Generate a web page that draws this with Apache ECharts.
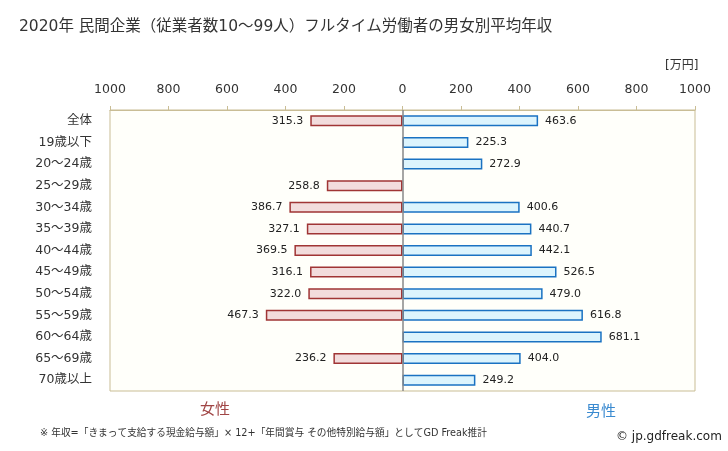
<!DOCTYPE html>
<html><head><meta charset="utf-8">
<script src="https://cdn.jsdelivr.net/npm/echarts@6/dist/echarts.min.js"></script>
<style>html,body{margin:0;padding:0;background:#fff}#c{width:728px;height:451px}</style>
</head><body><div id="c"></div>
<script>
const categories = ['全体','19歳以下','20〜24歳','25〜29歳','30〜34歳','35〜39歳','40〜44歳','45〜49歳','50〜54歳','55〜59歳','60〜64歳','65〜69歳','70歳以上'];
const female = [315.3, null, null, 258.8, 386.7, 327.1, 369.5, 316.1, 322.0, 467.3, null, 236.2, null];
const male = [463.6, 225.3, 272.9, null, 400.6, 440.7, 442.1, 526.5, 479.0, 616.8, 681.1, 404.0, 249.2];

const FONT = '"DejaVu Sans","Noto Sans CJK JP",sans-serif';
const chart = echarts.init(document.getElementById('c'), null, {renderer:'canvas'});
chart.setOption({
  animation:false,
  textStyle:{fontFamily:FONT},
  title:[
    {text:'2020年 民間企業（従業者数10〜99人）フルタイム労働者の男女別平均年収',left:14,top:14,textStyle:{fontSize:15.5,fontWeight:'normal',color:'#333',fontFamily:FONT}},
    {text:'[万円]',left:660,top:55,textStyle:{fontSize:12,fontWeight:'normal',color:'#333',fontFamily:FONT}},
    {text:'女性',left:195,top:398,textStyle:{fontSize:15,fontWeight:'normal',color:'#a04545',fontFamily:FONT}},
    {text:'男性',left:581,top:400,textStyle:{fontSize:15,fontWeight:'normal',color:'#3a8ad0',fontFamily:FONT}},
    {text:'※ 年収=「きまって支給する現金給与額」× 12+「年間賞与 その他特別給与額」としてGD Freak推計',left:35,top:424,textStyle:{fontSize:9.7,fontWeight:'normal',color:'#333',fontFamily:FONT}},
    {text:'© jp.gdfreak.com',left:611,top:426,textStyle:{fontSize:12,fontWeight:'normal',color:'#222',fontFamily:FONT}}
  ],
  grid:{left:110,right:33,top:110,bottom:60,show:true,backgroundColor:'#fffffa',borderColor:'#c9bd95',borderWidth:1},
  xAxis:{type:'value',position:'top',min:-1000,max:1000,interval:200,
    axisLine:{show:true,lineStyle:{color:'#c9bd95'}},
    axisTick:{show:true,length:4,lineStyle:{color:'#c9bd95'}},
    splitLine:{show:false},
    axisLabel:{formatter:v=>Math.abs(v),color:'#333',fontSize:12.5,margin:14,fontFamily:FONT}
  },
  yAxis:{type:'category',data:categories,inverse:true,
    axisLine:{show:false},axisTick:{show:false},
    axisLabel:{color:'#333',fontSize:12.5,margin:18,fontFamily:FONT}
  },
  series:[
    {name:'女性',type:'bar',data:female.map(v=>v==null?null:-v),barWidth:11,barGap:'-100%',
      itemStyle:{color:'#f2dcdc',borderColor:'#a03535',borderWidth:1.5},
      label:{show:true,position:'left',distance:7,color:'#222',fontSize:11,fontFamily:FONT,formatter:p=>Math.abs(p.value).toFixed(1)},
      markLine:{silent:true,symbol:'none',label:{show:false},lineStyle:{color:'#888',width:1.5,type:'solid'},data:[{xAxis:0}]}
    },
    {name:'男性',type:'bar',data:male,barWidth:11,
      itemStyle:{color:'#dcf4fd',borderColor:'#1a72c2',borderWidth:1.5},
      label:{show:true,position:'right',distance:7,color:'#222',fontSize:11,fontFamily:FONT,formatter:p=>p.value.toFixed(1)}
    }
  ]
});
</script></body></html>
